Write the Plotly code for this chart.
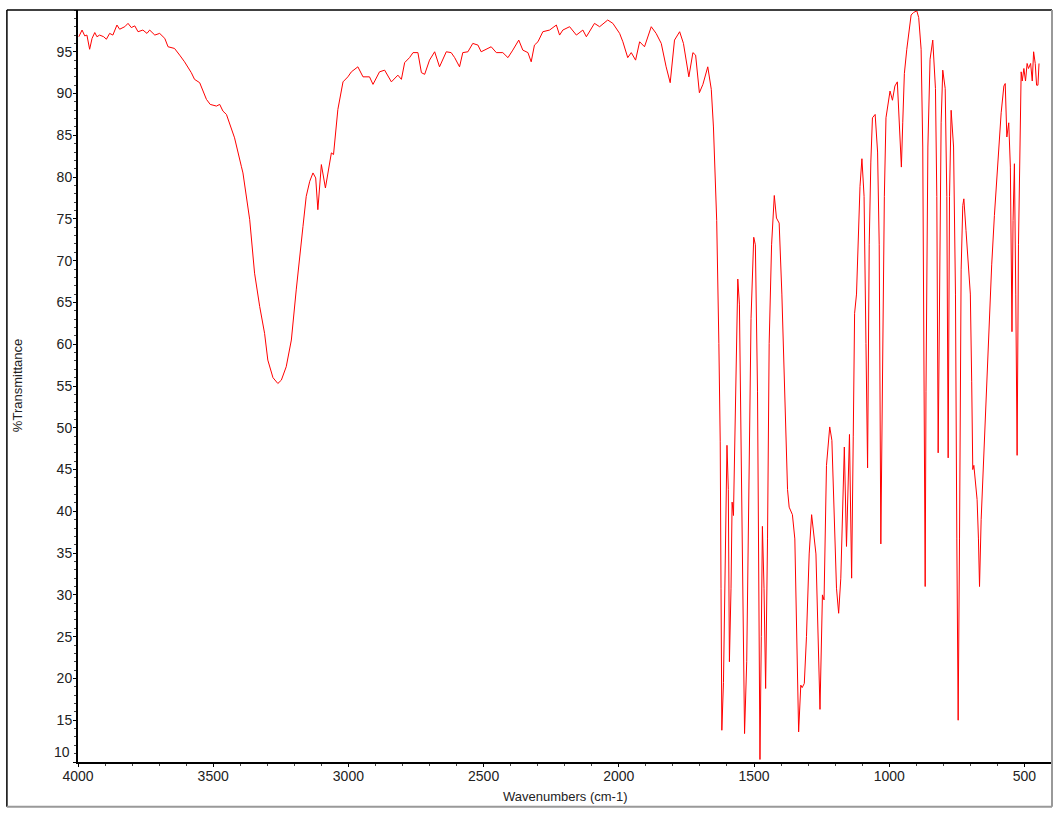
from plotly import graph_objects as go

# values (cm-1, %T)
wavenumber = [
    3997, 3985, 3975, 3967, 3957, 3948, 3938, 3930, 3920, 3905, 3895, 3883, 3871, 3856,
    3846, 3827, 3815, 3803, 3790, 3778, 3760, 3745, 3735, 3716, 3698, 3679, 3667, 3643,
    3624, 3606, 3581, 3569, 3550, 3538, 3525, 3511, 3488, 3476, 3464, 3451, 3421, 3396,
    3390, 3365, 3347, 3328, 3310, 3298, 3279, 3261, 3248, 3230, 3211, 3193, 3180, 3168,
    3156, 3143, 3131, 3121, 3113, 3100, 3085, 3063, 3055, 3039, 3020, 3002, 2989, 2965,
    2946, 2922, 2909, 2885, 2866, 2841, 2817, 2804, 2792, 2774, 2761, 2743, 2730, 2718,
    2700, 2681, 2663, 2638, 2620, 2607, 2589, 2577, 2558, 2540, 2521, 2509, 2472, 2453,
    2429, 2410, 2392, 2370, 2355, 2336, 2324, 2312, 2299, 2281, 2256, 2231, 2219, 2207,
    2182, 2157, 2133, 2120, 2090, 2071, 2041, 2022, 1997, 1985, 1967, 1954, 1938, 1923,
    1905, 1880, 1862, 1843, 1825, 1810, 1794, 1775, 1761, 1741, 1726, 1716, 1702, 1689,
    1671, 1658, 1650, 1642, 1638, 1630, 1625, 1622, 1619, 1613, 1606, 1600, 1595, 1591,
    1585, 1581, 1576, 1569, 1560, 1554, 1548, 1542, 1535, 1527, 1520, 1511, 1501, 1495,
    1487, 1483, 1478, 1473, 1469, 1463, 1457, 1450, 1444, 1435, 1425, 1417, 1407, 1397,
    1385, 1376, 1370, 1358, 1349, 1341, 1335, 1327, 1322, 1314, 1306, 1296, 1287, 1271,
    1264, 1256, 1247, 1241, 1232, 1220, 1212, 1203, 1195, 1187, 1179, 1166, 1158, 1147,
    1139, 1133, 1128, 1121, 1114, 1108, 1101, 1093, 1086, 1080, 1074, 1068, 1062, 1052,
    1043, 1037, 1031, 1025, 1018, 1012, 1003, 997, 988, 979, 970, 962, 955, 950,
    944, 935, 925, 919, 910, 898, 891, 882, 876, 871, 867, 864, 857, 849,
    839, 829, 824, 819, 814, 808, 802, 793, 787, 782, 777, 771, 762, 755,
    750, 745, 740, 734, 728, 724, 716, 707, 700, 695, 691, 687, 682, 675,
    670, 666, 660, 654, 645, 638, 629, 621, 611, 602, 596, 586, 576, 571,
    565, 558, 552, 546, 542, 537, 532, 527, 522, 517, 512, 508, 502, 496,
    490, 485, 477, 471, 466, 460, 455, 450, 446,
]
transmittance = [
    96.8, 97.6, 96.9, 97.0, 95.3, 96.6, 97.3, 96.8, 97.0, 96.8, 96.5, 97.2, 97.0, 98.2,
    97.7, 98.0, 98.4, 97.9, 98.1, 97.4, 97.6, 97.2, 97.6, 97.0, 97.2, 96.6, 95.6, 95.4,
    94.6, 93.8, 92.5, 91.7, 91.3, 90.3, 89.3, 88.7, 88.5, 88.7, 87.9, 87.5, 84.7, 81.3,
    80.5, 74.9, 68.5, 64.5, 61.3, 58.1, 56.0, 55.3, 55.7, 57.3, 60.5, 66.5, 70.1, 74.1,
    77.7, 79.5, 80.5, 79.9, 76.1, 81.5, 78.7, 82.9, 82.7, 88.1, 91.4, 92.0, 92.6, 93.2,
    92.0, 92.0, 91.1, 92.6, 92.8, 91.4, 92.2, 91.7, 93.7, 94.3, 94.9, 94.9, 92.5, 92.3,
    94.0, 95.0, 93.2, 95.0, 94.9, 94.3, 93.2, 94.9, 95.0, 96.0, 95.8, 95.0, 95.6, 94.9,
    94.9, 94.3, 95.2, 96.4, 95.2, 94.9, 93.8, 95.8, 96.2, 97.4, 97.6, 98.2, 97.0, 97.6,
    98.0, 97.0, 97.6, 96.8, 98.4, 98.0, 98.8, 98.4, 97.2, 96.2, 94.3, 94.9, 94.0, 96.2,
    95.6, 98.0, 97.2, 96.0, 93.2, 91.3, 96.4, 97.4, 96.0, 92.0, 94.9, 94.6, 90.1, 91.1,
    93.2, 90.5, 86.0, 77.7, 74.8, 60.1, 48.4, 30.8, 13.8, 19.5, 36.7, 47.9, 42.6, 22.0,
    30.8, 41.1, 39.5, 54.3, 67.8, 64.8, 48.4, 25.0, 13.4, 22.0, 42.6, 63.1, 72.8, 71.9,
    54.3, 33.8, 10.3, 25.0, 38.2, 30.8, 18.8, 36.7, 60.1, 71.9, 77.8, 75.1, 74.5, 66.0,
    53.1, 42.6, 40.5, 39.6, 36.7, 25.0, 13.6, 19.2, 18.9, 19.4, 25.0, 34.9, 39.6, 34.9,
    25.0, 16.3, 30.0, 29.4, 45.5, 50.1, 48.5, 39.6, 30.8, 27.8, 32.0, 47.7, 35.8, 49.2,
    32.0, 49.0, 63.7, 66.0, 74.2, 78.9, 82.2, 77.7, 60.1, 45.2, 71.9, 81.8, 87.1, 87.5,
    83.0, 71.9, 36.1, 54.3, 77.7, 87.1, 89.4, 90.3, 89.2, 90.9, 91.4, 86.5, 81.2, 86.5,
    92.4, 95.3, 97.7, 99.4, 99.7, 99.9, 99.1, 95.3, 83.6, 54.3, 31.0, 54.3, 83.6, 94.1,
    96.4, 90.6, 77.7, 47.0, 66.0, 86.5, 92.8, 90.6, 77.7, 46.4, 77.7, 88.0, 83.6, 66.0,
    36.7, 15.0, 36.7, 68.9, 76.6, 77.4, 73.6, 69.5, 66.0, 55.5, 45.0, 45.5, 44.0, 41.4,
    36.7, 31.0, 39.0, 43.7, 49.6, 56.6, 63.1, 69.5, 75.4, 79.8, 83.6, 87.7, 90.9, 91.2,
    84.8, 86.5, 81.2, 61.5, 74.8, 81.6, 66.0, 46.7, 71.9, 83.6, 92.6, 91.5, 93.0, 91.5,
    93.6, 93.0, 93.6, 91.5, 95.0, 93.6, 91.0, 91.0, 93.6,
]

y_ticks = list(range(10, 100, 5))
y_labels = ["" if v == 10 else str(v) for v in y_ticks]
x_ticks = [4000, 3500, 3000, 2500, 2000, 1500, 1000, 500]

fig = go.Figure()
fig.add_trace(
    go.Scatter(
        x=wavenumber,
        y=transmittance,
        mode="lines",
        line=dict(color="#ff0000", width=1),
        showlegend=False,
        hoverinfo="x+y",
    )
)

tick_font = dict(family="Liberation Sans, Arial, sans-serif", size=14, color="#222")
title_font = dict(family="Liberation Sans, Arial, sans-serif", size=13, color="#222")

fig.update_layout(
    width=1062,
    height=814,
    margin=dict(l=78, r=10, t=10, b=52),
    paper_bgcolor="white",
    plot_bgcolor="white",
    font=tick_font,
    xaxis=dict(
        range=[4000, 398],
        tickvals=x_ticks,
        ticks="outside",
        ticklen=3,
        tickcolor="black",
        ticklabelstandoff=-3,
        showline=True,
        linecolor="black",
        linewidth=2,
        showgrid=False,
        zeroline=False,
        minor=dict(dtick=100, tick0=0, ticks="outside", ticklen=2, tickcolor="#444"),
    ),
    yaxis=dict(
        range=[10, 100],
        tickvals=y_ticks,
        ticktext=y_labels,
        ticks="outside",
        ticklen=3,
        tickcolor="black",
        ticklabelstandoff=-2,
        showline=True,
        linecolor="black",
        linewidth=2,
        showgrid=False,
        zeroline=False,
        minor=dict(dtick=1, tick0=0, ticks="outside", ticklen=2, tickcolor="#444"),
    ),
    shapes=[
        # outer frame: dark top/left, grey right/bottom
        dict(type="line", xref="paper", yref="paper", x0=-0.073, x1=1.0, y0=1.0, y1=1.0,
             line=dict(color="black", width=1.5)),
        dict(type="line", xref="paper", yref="paper", x0=-0.073, x1=-0.073, y0=1.0, y1=-0.0595,
             line=dict(color="black", width=1.5)),
        dict(type="line", xref="paper", yref="paper", x0=-0.073, x1=1.0, y0=-0.0595, y1=-0.0595,
             line=dict(color="#999", width=2)),
        dict(type="line", xref="paper", yref="paper", x0=1.0, x1=1.0, y0=1.0, y1=-0.0595,
             line=dict(color="#999", width=2)),
    ],
    annotations=[
        dict(text="10", xref="paper", yref="paper", x=-0.0065, y=0.0135,
             xanchor="right", yanchor="middle", showarrow=False, font=tick_font),
        dict(text="Wavenumbers (cm-1)", xref="paper", yref="paper", x=0.5, y=-0.0465,
             xanchor="center", yanchor="middle", showarrow=False, font=title_font),
        dict(text="%Transmittance", xref="paper", yref="paper", x=-0.0625, y=0.5,
             xanchor="center", yanchor="middle", textangle=-90, showarrow=False,
             font=title_font),
    ],
)

# page body has a default 8px margin; drop it so the figure sits at the window corner
fig.write_html(
    "out.html",
    config={"displayModeBar": False},
    post_script="document.body.style.margin='0px';",
)
